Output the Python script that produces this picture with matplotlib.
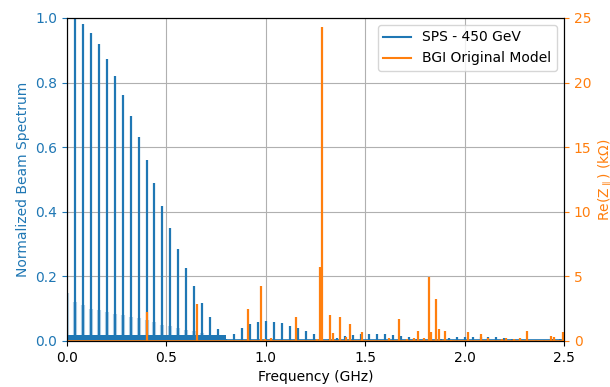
import matplotlib
matplotlib.use("Agg")
import matplotlib.pyplot as plt
import numpy as np

BLUE = "#1f77b4"
ORANGE = "#ff7f0e"

# beam spectrum lines (GHz) - 25 ns bunch spacing
line_freq = [0.04 * n for n in range(1, 63)]
line_height = [
    1.000, 0.980, 0.955, 0.918, 0.873, 0.820, 0.762, 0.698, 0.631, 0.559,
    0.489, 0.419, 0.350, 0.286, 0.225, 0.169, 0.119, 0.074, 0.037, 0.006,
    0.022, 0.039, 0.052, 0.059, 0.062, 0.059, 0.055, 0.047, 0.039, 0.030,
    0.021, 0.013, 0.005, 0.008, 0.015, 0.019, 0.022, 0.023, 0.023, 0.023,
    0.020, 0.016, 0.011, 0.006, 0.002, 0.003, 0.007, 0.010, 0.012, 0.013,
    0.013, 0.013, 0.012, 0.011, 0.009, 0.006, 0.004, 0.002, 0.002, 0.004,
    0.005, 0.006,
]
# broad base under the first lobe lines
skirt_freq = [0.0, 0.04, 0.08, 0.12, 0.16, 0.20, 0.24, 0.28, 0.32, 0.36,
              0.40, 0.44, 0.48, 0.52, 0.56, 0.60, 0.64, 0.68]
skirt_height = [0.15, 0.12, 0.11, 0.10, 0.095, 0.09, 0.085, 0.08, 0.075, 0.07,
                0.065, 0.06, 0.05, 0.045, 0.04, 0.035, 0.03, 0.025]
floor_span = (0.0, 0.80)
floor_level = 0.02

# BGI impedance resonances (GHz, kOhm)
res_freq = [0.400, 0.653, 0.913, 0.976, 0.998, 1.027, 1.152, 1.260, 1.275,
            1.283, 1.325, 1.338, 1.371, 1.405, 1.426, 1.483, 1.620, 1.668,
            1.708, 1.745, 1.764, 1.796, 1.819, 1.833, 1.858, 1.871, 1.902,
            1.930, 2.015, 2.080, 2.120, 2.190, 2.207, 2.250, 2.280, 2.313,
            2.433, 2.450, 2.494]
res_z = [2.27, 2.84, 2.45, 4.28, 0.15, 0.20, 1.83, 0.15, 5.7,
         24.3, 2.0, 0.6, 1.83, 0.3, 1.32, 0.67, 0.2, 1.73,
         0.15, 0.2, 0.8, 0.2, 4.93, 0.67, 3.23, 0.9, 0.75,
         0.1, 0.7, 0.52, 0.2, 0.15, 0.2, 0.15, 0.2, 0.75,
         0.4, 0.3, 0.7]

fig = plt.figure(figsize=(6.1, 3.87), dpi=100)
ax1 = fig.add_axes([0.1098, 0.1189, 0.8148, 0.8346])

# beam spectrum
ax1.fill_between(floor_span, 0, floor_level, color=BLUE, linewidth=0, zorder=2)
ax1.vlines(skirt_freq, 0, skirt_height, color=BLUE, linewidth=3, alpha=0.3, zorder=2)
ax1.vlines(line_freq, 0, line_height, color=BLUE, linewidth=1.6, zorder=2)
ax1.plot([0, 2.5], [0.002, 0.002], color=BLUE, linewidth=1.2, zorder=2)
h1, = ax1.plot([], [], color=BLUE, linewidth=1.5, label="SPS - 450 GeV")

ax1.set_xlim(0, 2.5)
ax1.set_ylim(0, 1.0)
ax1.set_xticks(np.arange(0, 2.51, 0.5))
ax1.set_yticks(np.arange(0, 1.01, 0.2))
ax1.grid(True)
ax1.set_xlabel("Frequency (GHz)")
ax1.set_ylabel("Normalized Beam Spectrum", color=BLUE)
ax1.tick_params(axis="y", colors=BLUE)
ax1.spines["left"].set_color("black")

# impedance
ax2 = ax1.twinx()
ax2.plot([0, 2.5], [0.03, 0.03], color=ORANGE, linewidth=1.2)
ax2.vlines(res_freq, 0, res_z, color=ORANGE, linewidth=1.6)
h2, = ax2.plot([], [], color=ORANGE, linewidth=1.5, label="BGI Original Model")
ax2.set_ylim(0, 25)
ax2.set_yticks(np.arange(0, 26, 5))
ax2.set_ylabel(r"Re($\mathrm{Z}_{\parallel}$) (k$\Omega$)", color=ORANGE)
ax2.tick_params(axis="y", colors=ORANGE)
ax2.spines["right"].set_color("black")

ax2.legend(handles=[h1, h2], loc="upper right")

fig.savefig("out.png", dpi=100)
